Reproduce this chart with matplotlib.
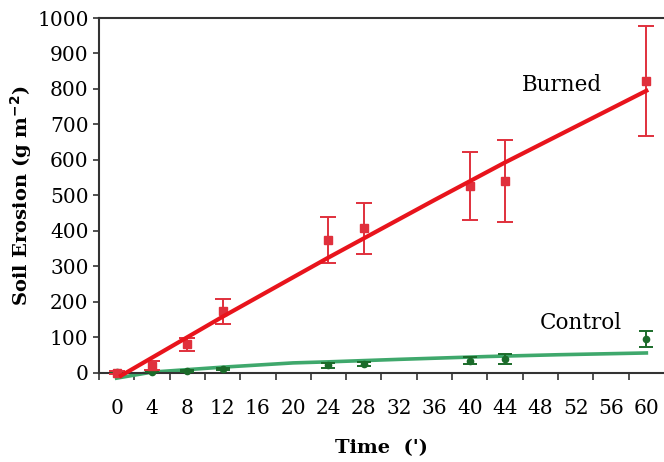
import numpy as np
import matplotlib.pyplot as plt
from matplotlib.ticker import MultipleLocator, FixedLocator

# measured points (minutes, g m-2)
time = [0, 4, 8, 12, 24, 28, 40, 44, 60]
burned = [0, 20, 80, 173, 375, 407, 527, 541, 822]
burned_err = [4, 12, 18, 35, 65, 72, 96, 115, 155]
control = [1, 3, 5, 11, 21, 24, 34, 39, 95]
control_err = [2, 2, 2, 4, 6, 6, 10, 15, 22]

# trend lines
burned_fit_x = [0.5, 12, 24, 36, 44, 60]
burned_fit_y = [-8, 158, 325, 487, 593, 795]
control_fit_x = [0, 4, 8, 12, 20, 24, 32, 42, 50, 60]
control_fit_y = [-15, 2, 9, 16, 28, 31, 38, 46, 51, 56]

xticks = list(range(0, 61, 4))

plt.rcParams['font.family'] = ['DejaVu Serif']

fig = plt.figure(figsize=(6.64, 4.62), dpi=100)
ax = fig.add_axes([0.149, 0.193, 0.851, 0.768])

ax.plot(control_fit_x, control_fit_y, color='#3fa86c', lw=2.6, clip_on=False, zorder=2)
ax.errorbar(time, control, yerr=control_err, fmt='o', color='#1b6b2a', ms=4.5,
            ecolor='#1b6b2a', elinewidth=1.4, capsize=5, capthick=1.4, zorder=3, clip_on=False)

ax.errorbar(time, burned, yerr=burned_err, fmt='s', color='#e0303c', ms=6,
            ecolor='#e0303c', elinewidth=1.4, capsize=5.5, capthick=1.4, zorder=3, clip_on=False)
ax.plot(burned_fit_x, burned_fit_y, color='#e8141c', lw=3, clip_on=False, zorder=4)

ax.text(50.4, 810, 'Burned', fontsize=15.5, ha='center', va='center')
ax.text(52.6, 140, 'Control', fontsize=15.5, ha='center', va='center')

ax.set_xlim(-2, 62)
ax.set_ylim(0, 1000)
ax.xaxis.set_major_locator(FixedLocator(xticks))
ax.xaxis.set_minor_locator(FixedLocator(np.arange(-2, 62, 4)))
ax.yaxis.set_major_locator(MultipleLocator(100))
ax.tick_params(axis='x', which='major', length=0, pad=19, labelsize=14.5)
ax.tick_params(axis='x', which='minor', length=5, width=1.2, direction='out', color='#333333')
ax.tick_params(axis='y', length=4.5, width=1.2, pad=3, labelsize=14.5, color='#333333')

for s in ['left', 'bottom', 'top']:
    ax.spines[s].set_linewidth(1.5)
    ax.spines[s].set_color('#333333')
ax.spines['right'].set_visible(False)

ax.set_xlabel("Time  (')", fontsize=14, fontweight='bold', labelpad=15)
ax.set_ylabel('Soil Erosion (g m$^{\\mathbf{-2}}$)', fontsize=14, fontweight='bold', labelpad=2)

fig.savefig('out.png', dpi=100)
